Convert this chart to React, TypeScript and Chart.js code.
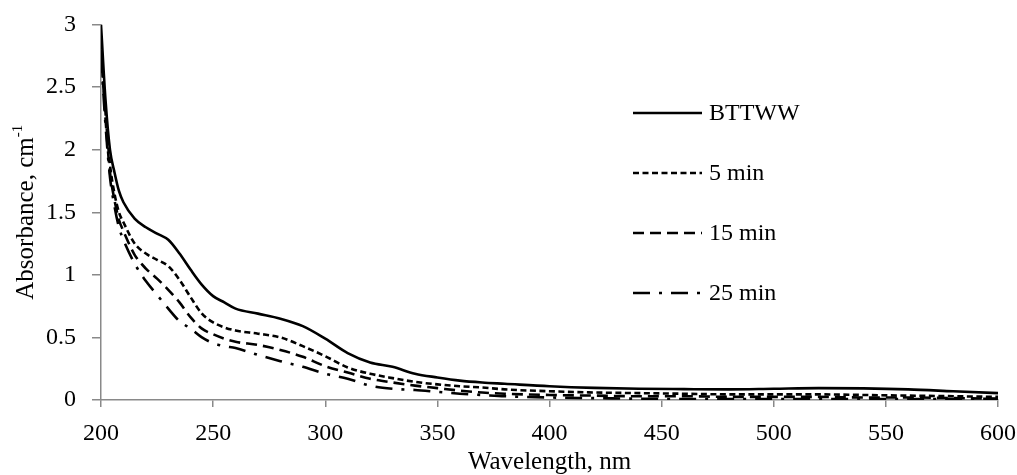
import React, { useEffect, useRef } from "react";
import { Chart, registerables } from "chart.js";

Chart.register(...registerables);

const wavelengths = [200, 202, 204, 206, 208, 210, 215, 220, 225, 230, 235, 240, 245, 250, 255, 260, 270, 280, 290, 300, 310, 320, 330, 340, 350, 360, 370, 380, 400, 420, 440, 460, 480, 500, 520, 540, 560, 580, 600];

const bttww = [3.0, 2.4, 2.0, 1.82, 1.67, 1.58, 1.45, 1.38, 1.33, 1.28, 1.17, 1.04, 0.92, 0.83, 0.78, 0.73, 0.69, 0.65, 0.59, 0.49, 0.375, 0.3, 0.265, 0.21, 0.18, 0.155, 0.14, 0.13, 0.11, 0.097, 0.09, 0.087, 0.085, 0.09, 0.095, 0.093, 0.085, 0.07, 0.055];
const min5 = [2.85, 2.3, 1.88, 1.65, 1.5, 1.42, 1.25, 1.17, 1.12, 1.07, 0.96, 0.82, 0.69, 0.62, 0.58, 0.555, 0.53, 0.5, 0.43, 0.35, 0.26, 0.21, 0.175, 0.145, 0.125, 0.11, 0.1, 0.085, 0.07, 0.06, 0.055, 0.05, 0.045, 0.045, 0.045, 0.04, 0.035, 0.03, 0.025];
const min15 = [2.8, 2.25, 1.82, 1.6, 1.44, 1.35, 1.16, 1.05, 0.97, 0.88, 0.78, 0.66, 0.57, 0.525, 0.49, 0.465, 0.44, 0.4, 0.345, 0.27, 0.22, 0.17, 0.14, 0.115, 0.095, 0.075, 0.06, 0.05, 0.04, 0.035, 0.03, 0.03, 0.025, 0.025, 0.025, 0.02, 0.02, 0.015, 0.01];
const min25 = [2.75, 2.2, 1.78, 1.55, 1.38, 1.28, 1.09, 0.95, 0.84, 0.73, 0.63, 0.57, 0.5, 0.455, 0.43, 0.415, 0.36, 0.31, 0.265, 0.21, 0.17, 0.115, 0.09, 0.08, 0.065, 0.05, 0.04, 0.03, 0.02, 0.015, 0.01, 0.008, 0.008, 0.008, 0.008, 0.008, 0.008, 0.008, 0.01];

const seriesLabels = ["BTTWW", "5 min", "15 min", "25 min"];
const seriesDashes: number[][] = [[], [6, 3.5], [11, 6], [17, 9, 3, 9]];

const xTicks = [200, 250, 300, 350, 400, 450, 500, 550, 600];
const yTicks = [0, 0.5, 1, 1.5, 2, 2.5, 3];

const xTitle = "Wavelength, nm";
const yTitle = "Absorbance, cm";
const yTitleSup = "-1";

const FONT = "'Liberation Serif', 'Times New Roman', serif";
const AXIS_COLOR = "#898989";

export default function App() {
  const ref = useRef<HTMLCanvasElement | null>(null);

  useEffect(() => {
    document.body.style.margin = "0";
    const canvas = ref.current;
    if (!canvas) return;
    const allSeries = [bttww, min5, min15, min25];

    const overlay = {
      id: "overlay",
      afterDraw(chart: any) {
        const ctx = chart.ctx;
        const area = chart.chartArea;
        ctx.save();
        // legend
        ctx.fillStyle = "#000";
        ctx.font = `24px ${FONT}`;
        ctx.textBaseline = "middle";
        ctx.textAlign = "left";
        chart.data.datasets.forEach((ds: any, i: number) => {
          const y = 113 + i * 60;
          ctx.beginPath();
          ctx.setLineDash(ds.borderDash || []);
          ctx.lineWidth = 2.6;
          ctx.strokeStyle = "#000";
          ctx.moveTo(633, y);
          ctx.lineTo(702, y);
          ctx.stroke();
          ctx.setLineDash([]);
          ctx.fillText(ds.label, 709, y + 1);
        });
        // x title
        ctx.textAlign = "center";
        ctx.font = `25px ${FONT}`;
        ctx.fillText(xTitle, (area.left + area.right) / 2, 462);
        // y title (rotated)
        ctx.translate(25, (area.top + area.bottom) / 2);
        ctx.rotate(-Math.PI / 2);
        ctx.font = `25px ${FONT}`;
        const mainW = ctx.measureText(yTitle).width;
        ctx.font = `15px ${FONT}`;
        const supW = ctx.measureText(yTitleSup).width;
        const total = mainW + supW;
        ctx.textAlign = "left";
        ctx.font = `25px ${FONT}`;
        ctx.fillText(yTitle, -total / 2, 1);
        ctx.font = `15px ${FONT}`;
        ctx.fillText(yTitleSup, -total / 2 + mainW, -7);
        ctx.restore();
      },
    };

    const chart = new Chart(canvas, {
      type: "line",
      data: {
        datasets: seriesLabels.map((label, i) => ({
          label,
          data: wavelengths.map((w, j) => ({ x: w, y: allSeries[i][j] })),
          borderColor: "#000",
          backgroundColor: "#000",
          borderWidth: 2.6,
          borderDash: seriesDashes[i],
          pointRadius: 0,
          cubicInterpolationMode: "monotone" as const,
          fill: false,
        })),
      },
      options: {
        animation: false,
        responsive: true,
        maintainAspectRatio: false,
        layout: { padding: { top: 24.5, right: 19, left: 0, bottom: 0 } },
        plugins: { legend: { display: false }, tooltip: { enabled: false } },
        scales: {
          x: {
            type: "linear",
            min: 200,
            max: 600,
            afterBuildTicks: (s: any) => {
              s.ticks = xTicks.map((v) => ({ value: v }));
            },
            afterFit: (s: any) => {
              s.height = 75;
              s.paddingLeft = 0;
              s.paddingRight = 0;
            },
            ticks: {
              color: "#000",
              font: { family: FONT, size: 24 },
              padding: 12,
              maxRotation: 0,
              callback: (v: any) => String(v),
            },
            grid: { drawOnChartArea: false, drawTicks: true, tickLength: 7, color: AXIS_COLOR, lineWidth: 1.5 },
            border: { color: AXIS_COLOR, width: 1.5 },
          },
          y: {
            type: "linear",
            min: 0,
            max: 3,
            afterBuildTicks: (s: any) => {
              s.ticks = yTicks.map((v) => ({ value: v }));
            },
            afterFit: (s: any) => {
              s.width = 101;
              s.paddingTop = 0;
              s.paddingBottom = 0;
            },
            ticks: {
              color: "#000",
              font: { family: FONT, size: 24 },
              padding: 16,
              callback: (v: any) => String(v),
            },
            grid: { drawOnChartArea: false, drawTicks: true, tickLength: 9, color: AXIS_COLOR, lineWidth: 1.5 },
            border: { color: AXIS_COLOR, width: 1.5 },
          },
        },
      },
      plugins: [overlay],
    });
    return () => chart.destroy();
  }, []);

  return (
    <div style={{ position: "relative", width: 1017, height: 475 }}>
      <canvas ref={ref} />
    </div>
  );
}
